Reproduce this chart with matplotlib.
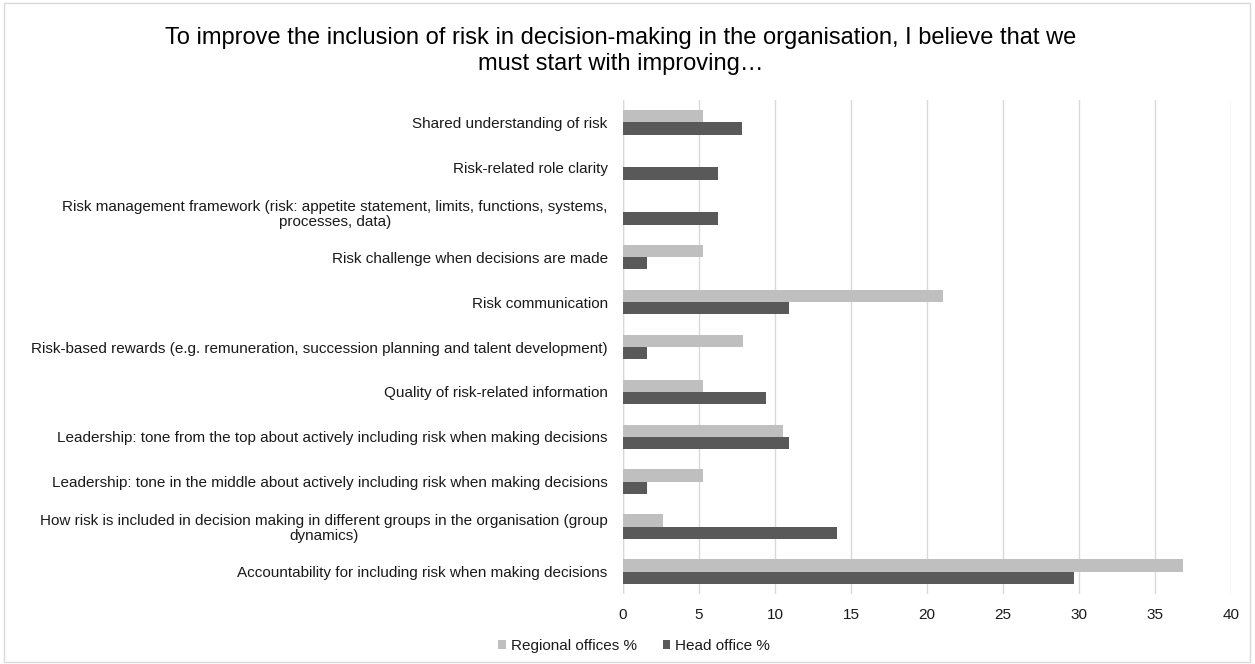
import matplotlib
matplotlib.use('Agg')
import matplotlib.pyplot as plt
import numpy as np
from matplotlib.patches import Rectangle

plt.rcParams['font.family'] = ['Liberation Sans', 'DejaVu Sans']

categories = [
    'Shared understanding of risk',
    'Risk-related role clarity',
    'Risk management framework (risk: appetite statement, limits, functions, systems,\nprocesses, data)',
    'Risk challenge when decisions are made',
    'Risk communication',
    'Risk-based rewards (e.g. remuneration, succession planning and talent development)',
    'Quality of risk-related information',
    'Leadership: tone from the top about actively including risk when making decisions',
    'Leadership: tone in the middle about actively including risk when making decisions',
    'How risk is included in decision making in different groups in the organisation (group\ndynamics)',
    'Accountability for including risk when making decisions',
]
regional = [5.26, 0, 0, 5.26, 21.05, 7.89, 5.26, 10.53, 5.26, 2.63, 36.84]
head = [7.81, 6.25, 6.25, 1.56, 10.94, 1.56, 9.38, 10.94, 1.56, 14.06, 29.69]
series_names = ['Regional offices %', 'Head office %']
xticks = [0, 5, 10, 15, 20, 25, 30, 35, 40]

c_regional = '#bfbfbf'
c_head = '#595959'
text_c = '#1a1a1a'

fig = plt.figure(figsize=(12.55, 6.64), dpi=100)
ax = fig.add_axes([623 / 1255, 1 - 594 / 664, (1231 - 623) / 1255, (594 - 100) / 664])

y = np.arange(len(categories))
h = 0.274
ax.barh(y - h / 2, regional, height=h, color=c_regional, label=series_names[0], zorder=3)
ax.barh(y + h / 2, head, height=h, color=c_head, label=series_names[1], zorder=3)

ax.set_ylim(len(categories) - 0.5, -0.5)
ax.set_xlim(0, 40)
ax.set_xticks(xticks)
ax.set_yticks(y)
ax.set_yticklabels(categories, multialignment='center', linespacing=1.1)
ax.tick_params(axis='both', length=0, labelsize=11, colors=text_c)
ax.tick_params(axis='y', pad=11)
ax.tick_params(axis='x', pad=10)
ax.xaxis.grid(True, color='#d9d9d9', linewidth=1)
ax.set_axisbelow(True)
for s in ax.spines.values():
    s.set_visible(False)
ax.axvline(0, color='#d9d9d9', linewidth=1, zorder=2)

fig.text(621 / 1255, 1 - 51 / 664,
         'To improve the inclusion of risk in decision-making in the organisation, I believe that we\nmust start with improving…',
         ha='center', va='center', fontsize=17, color='black', linespacing=1.25)

fig.legend(loc='center', bbox_to_anchor=(634 / 1255, 1 - 646 / 664), ncol=2, frameon=False,
           fontsize=11, handlelength=0.5, handleheight=0.5, handletextpad=0.3,
           columnspacing=1.7, labelcolor=text_c)

fig.patches.append(Rectangle((4 / 1255, 2 / 664), 1246 / 1255, 659 / 664, transform=fig.transFigure,
                             fill=False, edgecolor='#d9d9d9', linewidth=1))

fig.savefig('out.png', dpi=100)
